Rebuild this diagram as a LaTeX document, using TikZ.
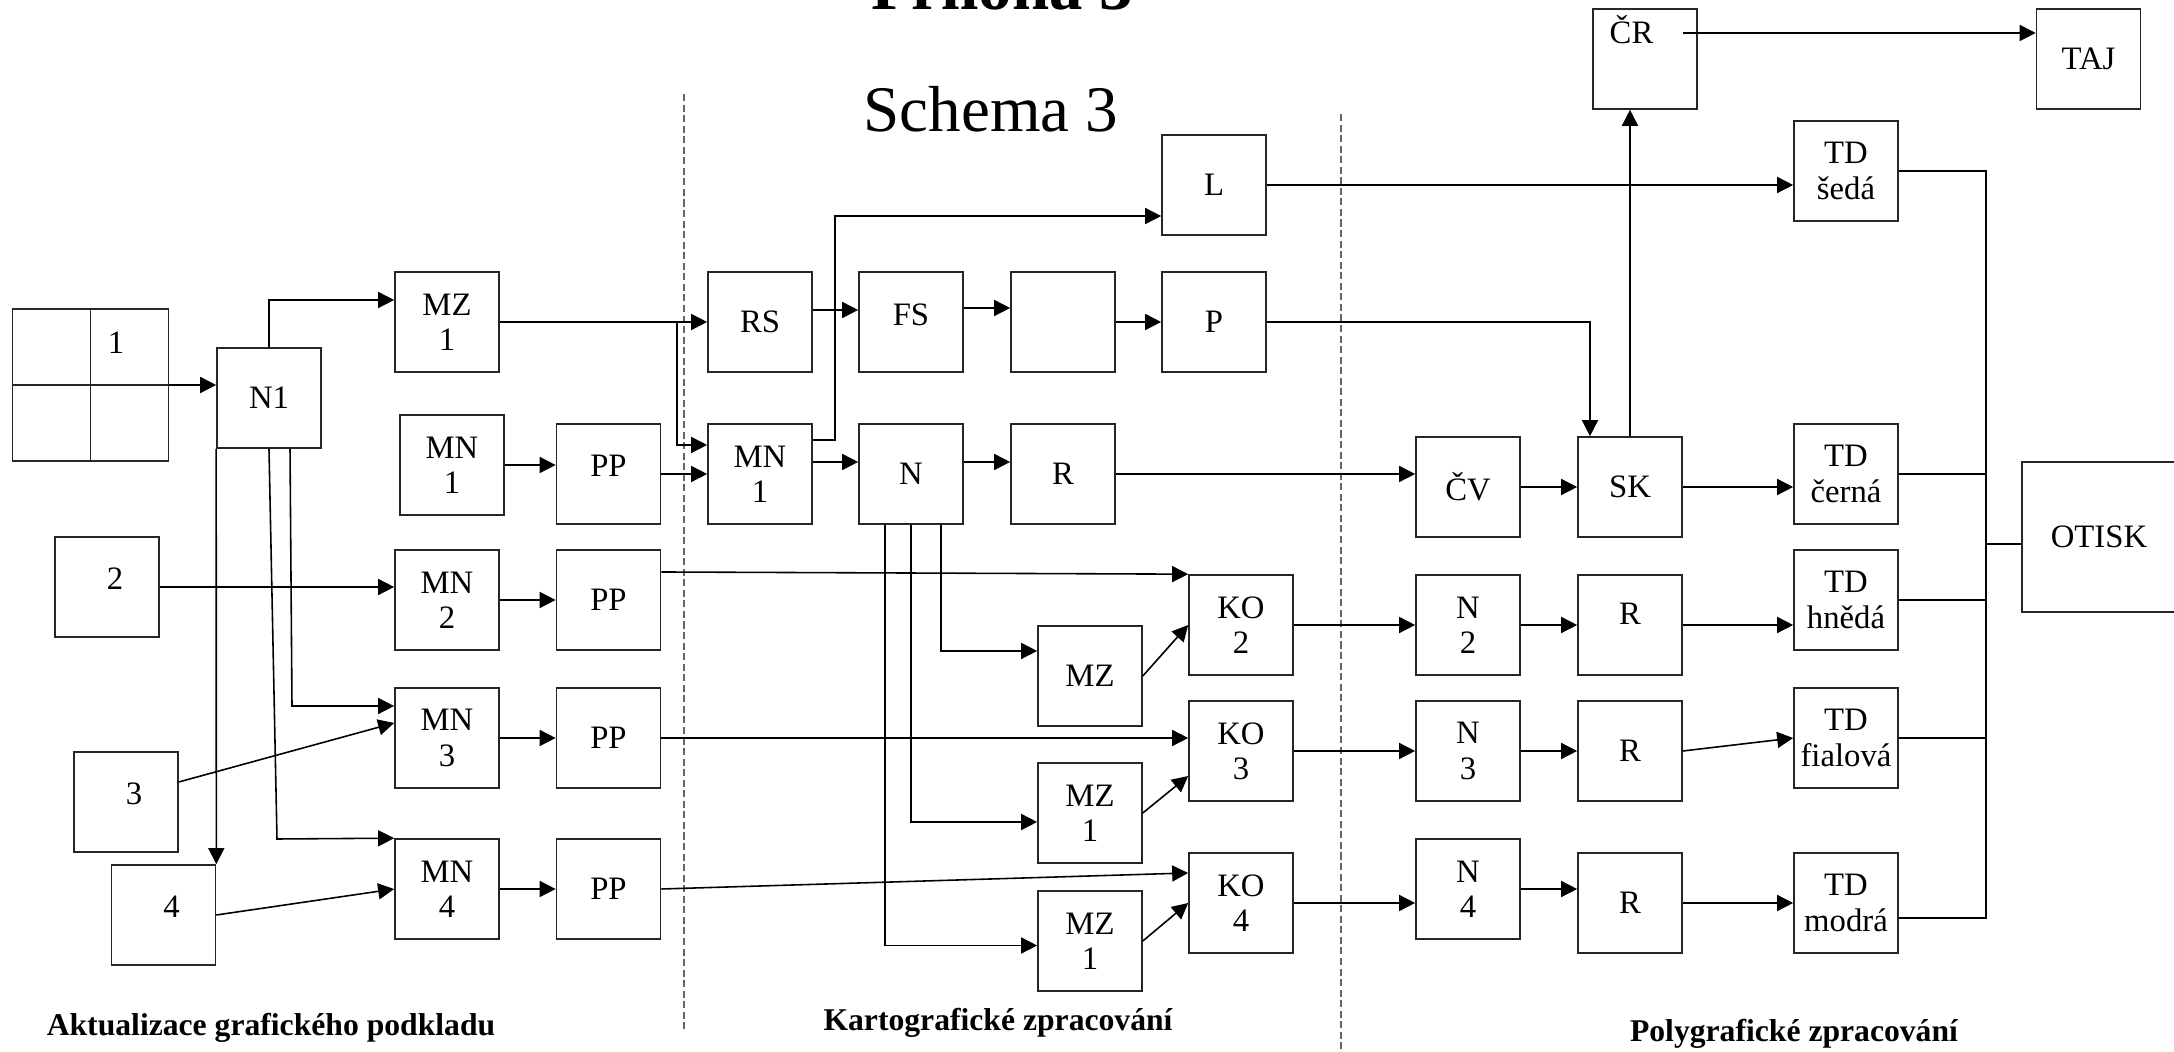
\documentclass[tikz,border=0pt]{standalone}
\usepackage{fontspec}
\setmainfont{Liberation Serif}
\usetikzlibrary{arrows.meta}

\begin{document}
\begin{tikzpicture}[
  x=0.01cm, y=-0.01cm,
  font=\fontsize{9.3}{10}\selectfont, >={Triangle[length=1.6mm, width=1.6mm]},
  box/.style={draw=black!85, line width=0.45pt, minimum width=1.04cm, minimum height=1cm, inner sep=1pt, align=center},
  txtup/.style={text depth=#1},
  arr/.style={->, line width=0.45pt, draw=black},
  wire/.style={line width=0.45pt, draw=black},
  sep/.style={dash pattern=on 2pt off 1pt, line width=0.3pt, draw=black!60},
  part/.style={font=\fontsize{9}{10}\selectfont\bfseries, anchor=base},
]
\useasboundingbox (0,0) rectangle (2174,1052);
% titles
\node[font=\fontsize{19}{20}\selectfont\bfseries, anchor=base] (title) at (1002,10) {Příloha 3};
\node[font=\fontsize{18.5}{20}\selectfont, anchor=base] (schema) at (991,132) {Schema 3};
% dividers
\draw[sep] (684,94) -- (684,1029);
\draw[sep] (1341,114) -- (1341,1052);
% left part
\node[box, minimum width=1.56cm, minimum height=1.52cm] (grid) at (90.5,385) {};
\draw[wire, draw=black!85] (grid.north) -- (grid.south);
\draw[wire, draw=black!85] (grid.west) -- (grid.east);
\node (g1) at (116,343) {1};
\node[box] (n1)   at (269,398)   {N1};
\node[box] (mzl)  at (447,322)   {MZ\\1};
\node[box] (mn1l) at (452,465)   {MN\\1};
\node[box, txtup=1.6mm] (pp1)  at (608.5,474) {PP};
\node[box, txtup=1.6mm] (in2)  at (107,587)   {\hspace*{1.6mm}2};
\node[box] (mn2)  at (447,600)   {MN\\2};
\node[box] (pp2)  at (608.5,600) {PP};
\node[box, txtup=1.6mm] (in3)  at (126,802)   {\hspace*{1.6mm}3};
\node[box] (mn3)  at (447,738)   {MN\\3};
\node[box] (pp3)  at (608.5,738) {PP};
\node[box, txtup=1.6mm] (in4)  at (163.5,915) {\hspace*{1.6mm}4};
\node[box] (mn4)  at (447,889)   {MN\\4};
\node[box] (pp4)  at (608.5,889) {PP};
% middle part
\node[box] (rs)    at (760,322)  {RS};
\node[box, txtup=1.4mm] (fs)    at (911,322)  {FS};
\node[box] (blank) at (1063,322) {};
\node[box] (p)     at (1214,322) {P};
\node[box] (l)     at (1214,185) {L};
\node[box] (mn1m)  at (760,474)  {MN\\1};
\node[box] (n)     at (911,474)  {N};
\node[box] (r1)    at (1063,474) {R};
\node[box] (mza)   at (1090,676) {MZ};
\node[box] (ko2)   at (1241,625) {KO\\2};
\node[box] (mzb)   at (1090,813) {MZ\\1};
\node[box] (ko3)   at (1241,751) {KO\\3};
\node[box] (mzc)   at (1090,941) {MZ\\1};
\node[box] (ko4)   at (1241,903) {KO\\4};
% right part
\node[box] (cr)  at (1645,59)   {};
\node[anchor=base west, inner sep=0pt] (crl) at (1609,44) {ČR};
\node[box] (taj) at (2088.5,59) {TAJ};
\node[box] (tds) at (1846,171)  {TD\\šedá};
\node[box] (cv)  at (1468,487)  {ČV};
\node[box] (sk)  at (1630,487)  {SK};
\node[box] (tdc) at (1846,474)  {TD\\černá};
\node[box] (n2)  at (1468,625)  {N\\2};
\node[box, txtup=2.2mm] (r2)  at (1630,625)  {R};
\node[box] (tdh) at (1846,600)  {TD\\hnědá};
\node[box] (n3)  at (1468,751)  {N\\3};
\node[box] (r3)  at (1630,751)  {R};
\node[box] (tdf) at (1846,738)  {TD\\fialová};
\node[box] (n4)  at (1468,889)  {N\\4};
\node[box] (r4)  at (1630,903)  {R};
\node[box] (tdm) at (1846,903)  {TD\\modrá};
\node[box, minimum width=1.54cm, minimum height=1.5cm] (otisk) at (2099,537) {OTISK};
% part labels
\node[part] (lab1) at (271,1036)  {Aktualizace grafického podkladu};
\node[part] (lab2) at (998,1031)  {Kartografické zpracování};
\node[part] (lab3) at (1794,1042) {Polygrafické zpracování};
% arrows, left
\draw[arr] (grid.east) -- (grid.east -| n1.west);
\draw[arr] (n1.north) |- ([yshift=2.2mm]mzl.west);
\draw[arr] (n1.south west) -- (in4.north east);
\coordinate (k4) at (277,839);
\draw[arr] (n1.south) -- (k4) -- (mn4.north west);
\coordinate (k3) at (292,706);
\draw[arr] ([xshift=2.1mm]n1.south) -- (k3) -- (k3 -| mn3.west);
\draw[arr] (mn1l.east) -- (mn1l.east -| pp1.west);
\draw[arr] (pp1.east) -- (mn1m.west);
\draw[arr] (in2.east) -- (in2.east -| mn2.west);
\draw[arr] (mn2) -- (pp2);
\draw[arr] ([yshift=2mm]in3.east) -- ([yshift=1.5mm]mn3.west);
\draw[arr] (mn3) -- (pp3);
\draw[arr] (in4.east) -- (mn4.west);
\draw[arr] (mn4) -- (pp4);
\draw[arr] ([yshift=2.8mm]pp2.east) -- (ko2.north west);
\draw[arr] (pp3.east) -- (pp3.east -| ko3.west);
\draw[arr] (pp4.east) -- ([yshift=3mm]ko4.west);
% arrows, middle
\draw[arr] (mzl.east) -- (mzl.east -| rs.west);
\coordinate (kr) at (677,322);
\draw[arr] (kr) |- ([yshift=2.9mm]mn1m.west);
\draw[arr] ([yshift=1.2mm]rs.east) -- ([yshift=1.2mm]fs.west);
\draw[arr] ([yshift=1.4mm]fs.east) -- ([yshift=1.4mm]blank.west);
\draw[arr] (blank) -- (p);
\coordinate (kl) at (835,440);
\draw[arr] ([yshift=3.4mm]mn1m.east) -- (kl) |- ([yshift=-3.1mm]l.west);
\draw[arr] ([yshift=1.2mm]mn1m.east) -- ([yshift=1.2mm]n.west);
\draw[arr] ([yshift=1.2mm]n.east) -- ([yshift=1.2mm]r1.west);
\draw[arr] (r1.east) -- (r1.east -| cv.west);
\draw[arr] ([xshift=3mm]n.south) |- ([yshift=2.5mm]mza.west);
\draw[arr] (n.south) |- ([yshift=-0.9mm]mzb.west);
\draw[arr] ([xshift=-2.6mm]n.south) |- ([yshift=-0.45mm]mzc.west);
\draw[arr] (mza.east) -- (ko2.west);
\draw[arr] (mzb.east) -- ([yshift=-2.5mm]ko3.west);
\draw[arr] (mzc.east) -- (ko4.west);
\draw[arr] (l.east) -- (l.east -| tds.west);
\coordinate (kp) at (1590,322);
\draw[arr] (p.east) -- (kp) -- (kp |- sk.north);
% arrows, right
\draw[arr] (cv) -- (sk);
\draw[arr] (sk.east) -- (sk.east -| tdc.west);
\draw[arr] (sk.north) -- (sk.north |- cr.south);
\coordinate (cro) at ([xshift=-1.5mm, yshift=2.6mm]cr.east);
\draw[arr] (cro) -- (cro -| taj.west);
\draw[arr] (ko2) -- (n2);
\draw[arr] (n2) -- (r2);
\draw[arr] (r2.east) -- (r2.east -| tdh.west);
\draw[arr] (ko3) -- (n3);
\draw[arr] (n3) -- (r3);
\draw[arr] (r3.east) -- (tdf.west);
\draw[arr] (ko4.east) -- (ko4.east -| n4.west);
\draw[arr] (n4.east) -- (n4.east -| r4.west);
\draw[arr] (r4) -- (tdm);
% collector to OTISK
\coordinate (bus) at (1986,537);
\coordinate (tdmo) at ([yshift=-1.5mm]tdm.east);
\coordinate (otin) at ([yshift=-0.7mm]otisk.west);
\draw[wire] (tds.east) -- (tds.east -| bus) -- (tdmo -| bus) -- (tdmo);
\draw[wire] (tdc.east) -- (tdc.east -| bus);
\draw[wire] (tdh.east) -- (tdh.east -| bus);
\draw[wire] (tdf.east) -- (tdf.east -| bus);
\draw[wire] (otin -| bus) -- (otin);
\end{tikzpicture}
\end{document}
